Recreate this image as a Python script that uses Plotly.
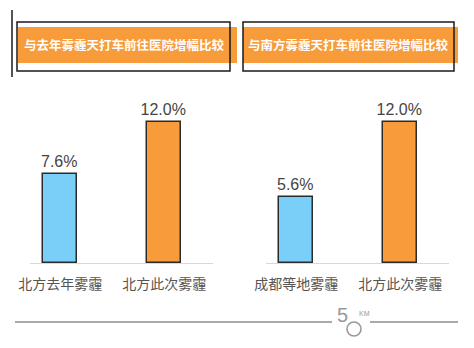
import plotly.graph_objects as go

W, H = 474, 348

# Data
left_categories = ["北方去年雾霾", "北方此次雾霾"]
left_values = [7.6, 12.0]
right_categories = ["成都等地雾霾", "北方此次雾霾"]
right_values = [5.6, 12.0]
left_title = "与去年雾霾天打车前往医院增幅比较"
right_title = "与南方雾霾天打车前往医院增幅比较"

BLUE = "#7ACFF8"
ORANGE = "#F79B3B"
colors = [BLUE, ORANGE]

def px(x):
    return x / W

def py(y):
    return 1 - y / H

fig = go.Figure()

for vals, xa, ya in [(left_values, "x", "y"), (right_values, "x2", "y2")]:
    fig.add_trace(go.Bar(
        x=[0, 1], y=vals, width=0.33,
        marker=dict(color=colors, line=dict(color="#2b2b2b", width=1.5)),
        text=[f"{v:.1f}%" for v in vals], textposition="outside",
        constraintext="none",
        textfont=dict(size=16, color="#444444", family="Liberation Sans, Arial"),
        cliponaxis=False, xaxis=xa, yaxis=ya, hoverinfo="skip"))

ytop = 13.87
axis_common = dict(showgrid=False, zeroline=False, showline=True,
                   linecolor="#d8d8d8", linewidth=1, ticks="",
                   automargin=False, ticklabelstandoff=8,
                   tickfont=dict(size=14, color="#555555",
                                 family="Noto Sans CJK SC"),
                   range=[-0.29, 1.47], fixedrange=True)
fig.update_layout(
    template="none",
    width=W, height=H,
    margin=dict(l=0, r=0, t=0, b=0, pad=0, autoexpand=False),
    paper_bgcolor="white", plot_bgcolor="rgba(0,0,0,0)",
    showlegend=False,
    bargap=0,
    xaxis=dict(domain=[px(30), px(213)], tickvals=[0, 1],
               ticktext=left_categories, anchor="y", **axis_common),
    xaxis2=dict(domain=[px(266), px(449)], tickvals=[0, 1],
                ticktext=right_categories, anchor="y2", **axis_common),
    yaxis=dict(domain=[py(263), py(100)], range=[0, ytop], visible=False,
               automargin=False),
    yaxis2=dict(domain=[py(263), py(100)], range=[0, ytop], visible=False,
                anchor="x2", automargin=False),
)

shapes = []
# header boxes
for (ox0, ox1, bx0, bx1) in [(18, 237, 17, 230), (243, 458, 243, 454)]:
    shapes.append(dict(type="rect", xref="paper", yref="paper",
                       x0=px(ox0), x1=px(ox1), y0=py(63), y1=py(27),
                       fillcolor=ORANGE, line=dict(width=0)))
    shapes.append(dict(type="rect", xref="paper", yref="paper",
                       x0=px(bx0), x1=px(bx1), y0=py(71), y1=py(22),
                       fillcolor="rgba(0,0,0,0)",
                       line=dict(color="#1a1a1a", width=1.5)))
# left vertical line
shapes.append(dict(type="line", xref="paper", yref="paper",
                   x0=px(12), x1=px(12), y0=py(10), y1=py(77),
                   line=dict(color="#1a1a1a", width=1.5)))
# bottom lines
shapes.append(dict(type="line", xref="paper", yref="paper",
                   x0=px(15), x1=px(332), y0=py(322), y1=py(322),
                   line=dict(color="#aaaaaa", width=2)))
shapes.append(dict(type="line", xref="paper", yref="paper",
                   x0=px(370), x1=px(458), y0=py(322), y1=py(322),
                   line=dict(color="#aaaaaa", width=2)))
# logo circle
shapes.append(dict(type="circle", xref="paper", yref="paper",
                   x0=px(347), x1=px(361), y0=py(336), y1=py(322),
                   line=dict(color="#999999", width=1.6)))
fig.update_layout(shapes=shapes)

annotations = [
    dict(text="<b>" + left_title + "</b>", x=px(124), y=py(45),
         xref="paper", yref="paper",
         showarrow=False, xanchor="center", yanchor="middle",
         font=dict(size=12.5, color="white", family="Noto Sans CJK SC")),
    dict(text="<b>" + right_title + "</b>", x=px(348), y=py(45),
         xref="paper", yref="paper",
         showarrow=False, xanchor="center", yanchor="middle",
         font=dict(size=12.5, color="white", family="Noto Sans CJK SC")),
    dict(text="5", x=px(342), y=py(315), xref="paper", yref="paper",
         showarrow=False, xanchor="center", yanchor="middle",
         font=dict(size=20, color="#999999", family="Liberation Sans")),
    dict(text="KM", x=px(364), y=py(313), xref="paper", yref="paper",
         showarrow=False, xanchor="center", yanchor="middle",
         font=dict(size=7, color="#999999", family="Liberation Sans")),
]
fig.update_layout(annotations=annotations)

fig.write_html("out.html")
